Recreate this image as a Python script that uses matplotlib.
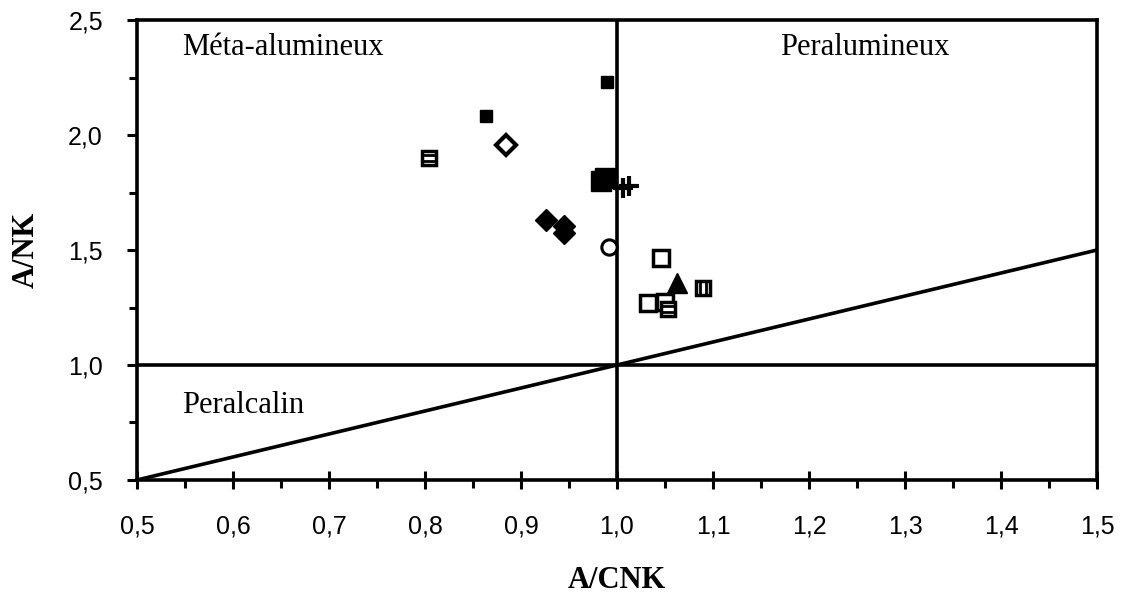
import numpy as np
import matplotlib.pyplot as plt
from matplotlib.path import Path
from matplotlib.ticker import MultipleLocator, FuncFormatter

# --- donnees ---
small_sq_x = [0.990, 0.864]
small_sq_y = [2.232, 2.083]

big_sq_x = [0.983, 0.987]
big_sq_y = [1.800, 1.812]

plus_x = [1.006, 1.012]
plus_y = [1.770, 1.780]

open_diamond_x = [0.884]
open_diamond_y = [1.955]

diamond_x = [0.926, 0.945, 0.945]
diamond_y = [1.630, 1.605, 1.575]

circle_x = [0.992]
circle_y = [1.512]

open_sq_x = [1.046, 1.032, 1.050]
open_sq_y = [1.467, 1.271, 1.275]

eq_sq_x = [0.804, 1.053]
eq_sq_y = [1.899, 1.242]

bar_sq_x = [1.090]
bar_sq_y = [1.333]

tri_x = [1.063]
tri_y = [1.355]

# marqueurs "carre barre"
M, L = Path.MOVETO, Path.LINETO
eq_lines = Path([(-0.3, 0.12), (0.3, 0.12), (-0.3, -0.12), (0.3, -0.12)], [M, L, M, L])
bar_lines = Path([(-0.12, -0.3), (-0.12, 0.3), (0.12, -0.3), (0.12, 0.3)], [M, L, M, L])

fig = plt.figure(figsize=(11.21, 5.97), dpi=100)
ax = fig.add_axes([0.1222, 0.196, 0.8564, 0.7704])

lw = 2.6
ax.axhline(1.0, color='black', lw=lw, zorder=2)
ax.axvline(1.0, color='black', lw=lw, zorder=2)
ax.plot([0.5, 1.5], [0.5, 1.5], color='black', lw=lw, zorder=2)

ax.plot(small_sq_x, small_sq_y, 's', color='black', ms=8, ls='none', zorder=5)
ax.plot(big_sq_x, big_sq_y, 's', color='black', ms=14, ls='none', zorder=5)
ax.plot(plus_x, plus_y, '+', color='black', ms=14, mew=3, ls='none', zorder=5)
ax.plot(open_diamond_x, open_diamond_y, 'D', mfc='white', mec='black', mew=3, ms=10, ls='none', zorder=5)
ax.plot(diamond_x, diamond_y, 'D', color='black', ms=11, ls='none', zorder=5)
ax.plot(circle_x, circle_y, 'o', mfc='white', mec='black', mew=2.2, ms=11, ls='none', zorder=5)
ax.plot(open_sq_x, open_sq_y, 's', mfc='white', mec='black', mew=2.5, ms=11, ls='none', zorder=5)
ax.plot(eq_sq_x, eq_sq_y, 's', mfc='white', mec='black', mew=2.5, ms=10, ls='none', zorder=5)
ax.plot(eq_sq_x, eq_sq_y, marker=eq_lines, color='black', mew=2, ms=10, ls='none', zorder=6)
ax.plot(bar_sq_x, bar_sq_y, 's', mfc='white', mec='black', mew=2.5, ms=10, ls='none', zorder=5)
ax.plot(bar_sq_x, bar_sq_y, marker=bar_lines, color='black', mew=2, ms=10, ls='none', zorder=6)
ax.plot(tri_x, tri_y, '^', color='black', ms=14, ls='none', zorder=5)

serif = 'Liberation Serif'
ax.text(0.547, 2.38, 'Méta-alumineux', family=serif, fontsize=22, va='center')
ax.text(1.17, 2.38, 'Peralumineux', family=serif, fontsize=22, va='center')
ax.text(0.547, 0.826, 'Peralcalin', family=serif, fontsize=22, va='center')

ax.set_xlim(0.5, 1.5)
ax.set_ylim(0.5, 2.5)
ax.xaxis.set_major_locator(MultipleLocator(0.1))
ax.xaxis.set_minor_locator(MultipleLocator(0.05))
ax.yaxis.set_major_locator(MultipleLocator(0.5))
ax.yaxis.set_minor_locator(MultipleLocator(0.25))
comma = FuncFormatter(lambda v, p: f'{v:.1f}'.replace('.', ','))
ax.xaxis.set_major_formatter(comma)
ax.yaxis.set_major_formatter(comma)

ax.tick_params(axis='x', which='major', direction='inout', length=13, width=2.2, labelsize=18, pad=18)
ax.tick_params(axis='y', which='major', direction='out', length=7.5, width=2.2, labelsize=18, pad=17)
ax.tick_params(which='minor', direction='out', length=6, width=2.2)
for lab in ax.get_xticklabels() + ax.get_yticklabels():
    lab.set_family('Liberation Sans')
for s in ax.spines.values():
    s.set_linewidth(2.6)

ax.set_xlabel('A/CNK', family=serif, fontweight='bold', fontsize=22, labelpad=20)
ax.set_ylabel('A/NK', family=serif, fontweight='bold', fontsize=22, labelpad=20)

fig.savefig('out.png', dpi=100)
